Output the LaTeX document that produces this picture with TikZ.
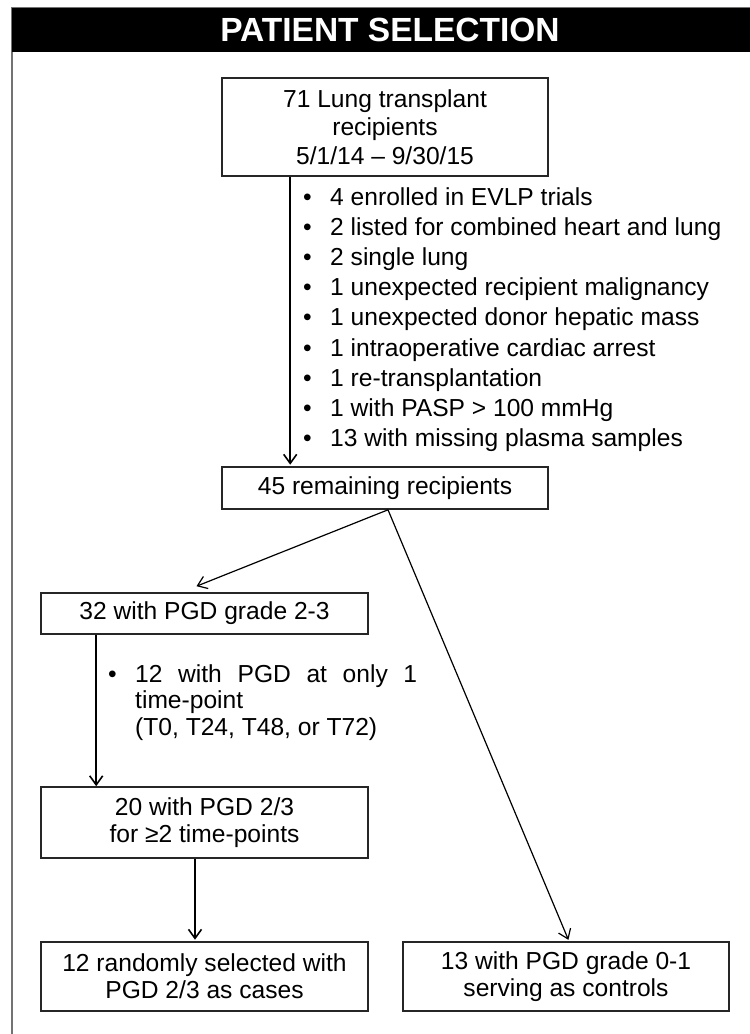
\documentclass[tikz,border=0pt]{standalone}
\usepackage{fontspec}
\setmainfont{Liberation Sans}
\usetikzlibrary{arrows.meta}
\tikzset{
	>={Straight Barb[length=9pt,width=13pt]},
	every node/.style={font=\fontsize{24.6}{27}\selectfont},
	box/.style={draw=black!85, line width=1.6pt, align=center, inner sep=0pt},
	flow/.style={->, line width=1.6pt},
	split/.style={->, line width=1.2pt},
	bullets/.style={anchor=north west, align=left, inner sep=0pt},
}
\newcommand{\bul}[1]{\makebox[27pt][l]{\textbullet}#1}
\newcommand{\nobul}[1]{\makebox[27pt][l]{}#1}

\begin{document}
\begin{tikzpicture}[x=1pt, y=-1pt]
	\useasboundingbox (0,0) rectangle (750,1034);
	\draw[black!55, line width=1.2pt] (12,1034) -- (12,8) -- (750,8);
	\node[fill=black, minimum width=756, minimum height=44, inner sep=0pt,
		text=white, font=\fontsize{33.5}{36}\bfseries\selectfont] (title) at (390,30) {PATIENT SELECTION};

	\node[box, minimum width=326, minimum height=98,
		font=\fontsize{24.6}{28.5}\selectfont] (lung) at (385,127)
		{71 Lung transplant\\recipients\\5/1/14 -- 9/30/15};
	\node[bullets, font=\fontsize{24.6}{30.2}\selectfont] (excluded) at (303,187) {
		\bul{4 enrolled in EVLP trials}\\
		\bul{2 listed for combined heart and lung}\\
		\bul{2 single lung}\\
		\bul{1 unexpected recipient malignancy}\\
		\bul{1 unexpected donor hepatic mass}\\
		\bul{1 intraoperative cardiac arrest}\\
		\bul{1 re-transplantation}\\
		\bul{1 with PASP > 100 mmHg}\\
		\bul{13 with missing plasma samples}};
	\node[box, minimum width=326, minimum height=42] (remain) at (385,488) {45 remaining recipients};

	\node[box, minimum width=327, minimum height=41] (grade) at (204.5,613.5) {32 with PGD grade 2-3};
	\node[bullets, font=\fontsize{24.6}{26.5}\selectfont] (single) at (108,664) {
		\bul{\makebox[282pt][s]{12 with PGD at only 1}}\\
		\nobul{time-point}\\
		\nobul{(T0, T24, T48, or T72)}};
	\node[box, minimum width=327, minimum height=71] (multi) at (204.5,822.5) {20 with PGD 2/3\\for ≥2 time-points};
	\node[box, minimum width=327, minimum height=69] (cases) at (204.5,976.5) {12 randomly selected with\\PGD 2/3 as cases};
	\node[box, minimum width=326, minimum height=69] (controls) at (566,976.5) {13 with PGD grade 0-1\\serving as controls};

	\draw[flow, shorten >=1.5pt] ([xshift=69pt]lung.south west) -- ([xshift=69pt]remain.north west);
	\draw[split] ([xshift=3pt]remain.south) -- ([xshift=-8pt,yshift=6pt]grade.north);
	\draw[split, shorten >=1.5pt] ([xshift=3pt]remain.south) -- ([xshift=3pt]controls.north);
	\draw[flow] ([xshift=56pt]grade.south west) -- ([xshift=56pt]multi.north west);
	\draw[flow, shorten >=1.5pt] ([xshift=-9.5pt]multi.south) -- ([xshift=-9.5pt]cases.north);
\end{tikzpicture}
\end{document}
